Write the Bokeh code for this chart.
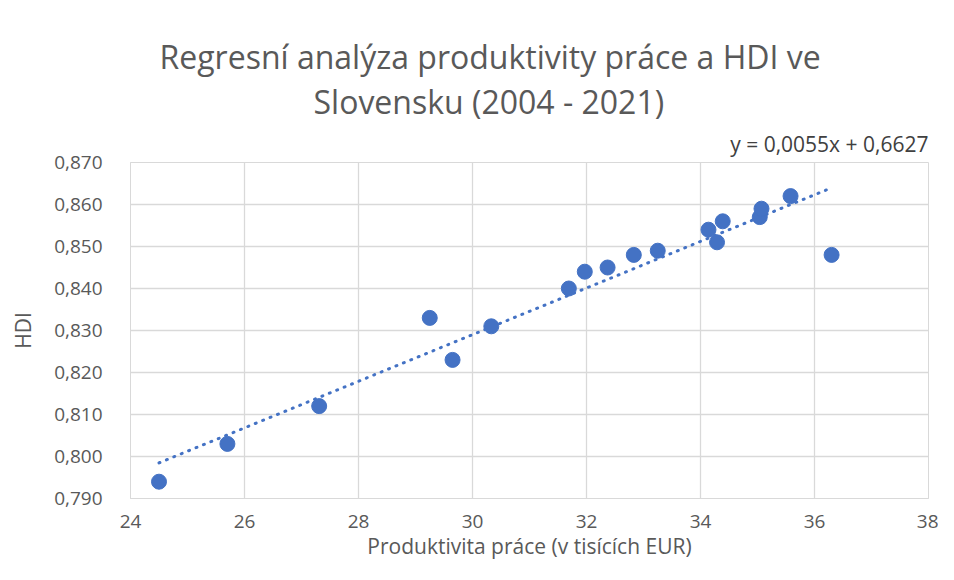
import numpy as np
from bokeh.plotting import figure
from bokeh.models import Range1d, FixedTicker, Title, ColumnDataSource
from bokeh.embed import file_html
from bokeh.resources import INLINE

# ---- data ----
productivity = [24.50, 25.70, 27.31, 29.25, 29.65, 30.33, 31.69, 31.97, 32.37,
                32.83, 33.25, 34.14, 34.29, 34.39, 35.04, 35.07, 35.58, 36.30]
hdi = [0.794, 0.803, 0.812, 0.833, 0.823, 0.831, 0.840, 0.844, 0.845,
       0.848, 0.849, 0.854, 0.851, 0.856, 0.857, 0.859, 0.862, 0.848]

x_ticks = [24, 26, 28, 30, 32, 34, 36, 38]
x_tick_labels = ["24", "26", "28", "30", "32", "34", "36", "38"]
y_ticks = [0.79, 0.80, 0.81, 0.82, 0.83, 0.84, 0.85, 0.86, 0.87]
y_tick_labels = ["0,790", "0,800", "0,810", "0,820", "0,830", "0,840", "0,850", "0,860", "0,870"]

title_lines = ["Regresní analýza produktivity práce a HDI ve", "Slovensku (2004 - 2021)"]
equation = "y = 0,0055x + 0,6627"
x_label = "Produktivita práce (v tisících EUR)"
y_label = "HDI"

BLUE = "#4472C4"
GRID = "#d9d9d9"
TXT = "#595959"
FONT = "Open Sans"

p = figure(width=938, height=564, output_backend="svg", toolbar_location=None,
           x_range=Range1d(x_ticks[0], x_ticks[-1]),
           y_range=Range1d(y_ticks[0], y_ticks[-1]),
           min_border_left=130, min_border_right=10,
           min_border_top=162, min_border_bottom=66)

p.outline_line_color = GRID
p.background_fill_color = "white"
p.border_fill_color = "white"

for ax in (p.xaxis[0], p.yaxis[0]):
    ax.axis_line_color = GRID
    ax.major_tick_line_color = None
    ax.minor_tick_line_color = None
    ax.major_label_text_font = FONT
    ax.major_label_text_font_size = "19px"
    ax.major_label_text_color = TXT
    ax.axis_label_text_font = FONT
    ax.axis_label_text_font_size = "21px"
    ax.axis_label_text_font_style = "normal"
    ax.axis_label_text_color = TXT

p.xaxis.ticker = FixedTicker(ticks=x_ticks)
p.xaxis.major_label_overrides = dict(zip(x_ticks, x_tick_labels))
p.yaxis.ticker = FixedTicker(ticks=y_ticks)
p.yaxis.major_label_overrides = dict(zip(y_ticks, y_tick_labels))
p.xaxis.axis_label = x_label
p.yaxis.axis_label = y_label
p.xaxis.major_label_standoff = 10
p.xaxis.axis_label_standoff = 1
p.yaxis.major_label_standoff = 22
p.yaxis.axis_label_standoff = 14

p.xgrid.ticker = FixedTicker(ticks=x_ticks)
p.ygrid.ticker = FixedTicker(ticks=y_ticks)
p.xgrid.grid_line_color = GRID
p.ygrid.grid_line_color = GRID
p.xgrid.grid_line_width = 1.3
p.ygrid.grid_line_width = 1.3

# trend line (least squares fit of the data)
slope, intercept = np.polyfit(productivity, hdi, 1)
tx = [min(productivity), max(productivity)]
ty = [slope * v + intercept for v in tx]
p.line(tx, ty, line_color=BLUE, line_width=3, line_dash="1 7", line_cap="round")

src = ColumnDataSource(dict(x=productivity, y=hdi))
p.scatter("x", "y", source=src, size=15, fill_color=BLUE, line_color=BLUE)

# equation and titles stacked above the plot frame (later = higher)
p.add_layout(Title(text=equation, align="right", offset=0, standoff=9,
                   text_font=FONT, text_font_size="21px", text_color="#404040",
                   text_font_style="normal"), "above")
p.add_layout(Title(text=title_lines[1], align="left", offset=183, standoff=1,
                   text_font=FONT, text_font_size="32px", text_color=TXT,
                   text_font_style="normal"), "above")
p.add_layout(Title(text=title_lines[0], align="left", offset=29, standoff=0,
                   text_font=FONT, text_font_size="32px", text_color=TXT,
                   text_font_style="normal"), "above")

open("out.html", "w").write(file_html(p, INLINE))
